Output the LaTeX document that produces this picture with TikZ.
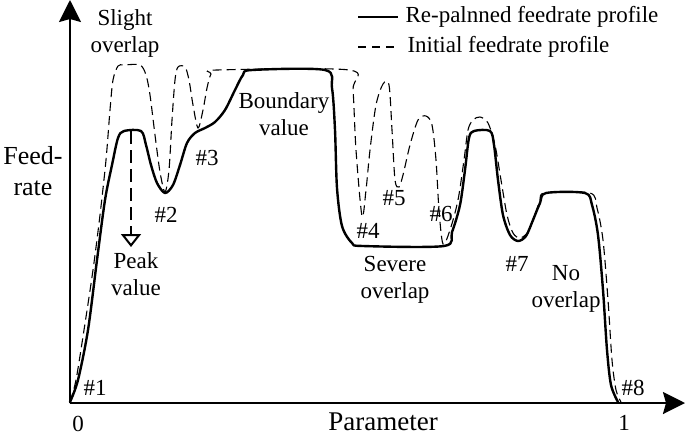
\documentclass[tikz,border=0pt]{standalone}
\usepackage{fontspec}
\setmainfont{Liberation Serif}
\usetikzlibrary{arrows.meta}

\tikzset{
    replanned/.style={line width=2.4pt, line join=round, line cap=round},
    initial/.style={line width=1.1pt, dash pattern=on 9pt off 5pt},
    axis/.style={line width=2.2pt, -{Stealth[length=22pt, width=22pt, inset=3pt]}},
    peakarrow/.style={line width=2.2pt, dash pattern=on 13pt off 6pt, -{Triangle[open, length=13pt, width=20pt, line width=2pt]}},
    lbl/.style={font=\fontsize{23}{27}\selectfont, align=center},
}

\begin{document}
\begin{tikzpicture}[x=1pt, y=-1pt]
            \useasboundingbox (0,0) rectangle (685,437);

            \coordinate (O) at (70,403);
            \coordinate (X) at (685,403);
            \coordinate (Y) at (70,0);
            \draw[axis] (O) -- (X);
            \draw[axis] (O) -- (Y);

            \node[font=\fontsize{26}{31}\selectfont, align=center] (feed) at (33,171) {Feed-\\rate};
            \node[font=\fontsize{27}{32}\selectfont] (param) at (383,422) {Parameter};
            \node[lbl, anchor=base] (zero) at (78,431) {0};
            \node[lbl, anchor=base] (one) at (624,430) {1};

            \draw[initial] plot[smooth, tension=0.5] coordinates {(70,402) (76,380) (84,330) (93,270) (100,215) (106,160) (110,110) (113,80) (118,66) (124,65) (140,65) (146,75) (150,95) (155,135) (160,172) (165,192) (169,170) (172,120) (175,80) (178,67) (185,67) (189,80) (193,105) (198,128) (203,110) (207,88) (211,74) (217,70) (349,70) (353,90) (356,150) (362,216) (366,190) (370,150) (376,105) (383,84) (389,85) (392,130) (395,180) (399,187) (403,175) (410,145) (418,120) (426,116) (432,125) (436,160) (439,210) (443,244) (450,230) (458,200) (464,160) (468,130) (473,120) (480,117) (488,123) (495,145) (501,180) (507,215) (513,233) (520,238) (528,232) (535,215) (540,200) (545,193) (590,193) (597,208) (603,240) (608,300) (612,360) (616,390) (621,402)};

            \draw[replanned] plot[smooth, tension=0.5] coordinates {(70,402) (78,380) (88,330) (97,260) (105,200) (112,165) (118,138) (124,131) (141,131) (146,145) (151,165) (157,183) (165,193) (173,185) (180,165) (187,143) (195,133) (205,128) (215,122) (225,110) (235,90) (243,75) (252,70) (325,70) (332,88) (335,130) (337,188) (342,226) (352,243) (363,246) (444,246) (452,232) (460,205) (465,170) (469,138) (474,131) (490,131) (494,145) (498,180) (503,215) (510,235) (518,241) (526,236) (533,220) (540,203) (546,193) (585,193) (592,205) (598,235) (603,290) (607,350) (611,385) (618,402)};

            \coordinate (pk) at (131,131);
            \coordinate (pkend) at (131,247);
            \draw[peakarrow] (pk) -- (pkend);

            \node[lbl] (slight) at (125,33) {Slight\\overlap};
            \node[lbl] (bound) at (284,114) {Boundary\\value};
            \node[lbl] (peak) at (136,274) {Peak\\value};
            \node[lbl] (severe) at (395,280) {Severe\\overlap};
            \node[lbl] (noov) at (566,289) {No\\overlap};

            \node[lbl, anchor=base] (p1) at (95,395) {\#1};
            \node[lbl, anchor=base] (p2) at (166,222) {\#2};
            \node[lbl, anchor=base] (p3) at (207,165) {\#3};
            \node[lbl, anchor=base] (p4) at (368,238) {\#4};
            \node[lbl, anchor=base] (p5) at (394,205) {\#5};
            \node[lbl, anchor=base] (p6) at (441,221) {\#6};
            \node[lbl, anchor=base] (p7) at (517,271) {\#7};
            \node[lbl, anchor=base] (p8) at (633,395) {\#8};

            \coordinate (lg1a) at (358,17);
            \coordinate (lg1b) at (398,17);
            \coordinate (lg2a) at (358,47);
            \coordinate (lg2b) at (398,47);
            \draw[replanned, line cap=butt] (lg1a) -- (lg1b);
            \draw[line width=1.1pt, dash pattern=on 8pt off 6pt] (lg2a) -- (lg2b);
            \node[lbl, anchor=west] (lg1) at (402,17) {Re-palnned feedrate profile};
            \node[lbl, anchor=west] (lg2) at (404,47) {Initial feedrate profile};
        \end{tikzpicture}
\end{document}
